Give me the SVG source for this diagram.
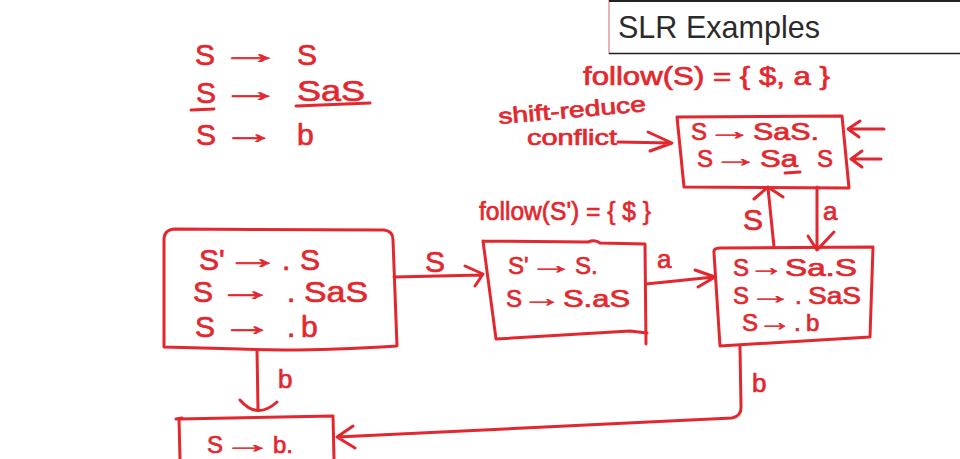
<svg xmlns="http://www.w3.org/2000/svg" width="960" height="459" viewBox="0 0 960 459">
<style>
.r{fill:none;stroke:#e2282e;stroke-width:3;stroke-linecap:round;stroke-linejoin:round}
.t{font-family:"Liberation Sans","DejaVu Sans",sans-serif;font-size:30px;fill:#e2282e;stroke:#e2282e;stroke-width:0.7}
.s{font-size:26px}
.m{font-size:24px}
.n{font-size:22px}
.title{font-family:"Liberation Sans","Open Sans",sans-serif;font-size:32px;fill:#2b2b2b}
</style>
<rect width="960" height="459" fill="#fff"/>
<g id="title">
<line x1="609" y1="0" x2="609" y2="54" stroke="#e8b4b6" stroke-width="2"/>
<line x1="609" y1="1" x2="960" y2="1" stroke="#222" stroke-width="2"/>
<line x1="609" y1="53.5" x2="960" y2="53.5" stroke="#222" stroke-width="1.5"/>
<text class="title" x="618" y="38" textLength="202" lengthAdjust="spacingAndGlyphs">SLR Examples</text>
</g>
<g id="grammar">
<text class="t" x="195" y="65">S</text><text class="t" transform="translate(219,63) scale(2.1,1)">→</text><text class="t" x="297" y="65">S</text>
<text class="t" x="196" y="103">S</text><text class="t" transform="translate(220,101) scale(2.05,1)">→</text><text class="t" x="297" y="101" textLength="68" lengthAdjust="spacingAndGlyphs">SaS</text>
<text class="t" x="196" y="145">S</text><text class="t" transform="translate(222,143) scale(1.8,1)">→</text><text class="t" x="297" y="145">b</text>
<path class="r" d="M191,110 L214,109 M296,106 L370,103"/>
</g>
<g id="notes">
<text class="t s" x="583" y="85" textLength="247" lengthAdjust="spacingAndGlyphs">follow(S) = { $, a }</text>
<text class="t s" x="479" y="220" textLength="172" lengthAdjust="spacingAndGlyphs">follow(S') = { $ }</text>
<text class="t n" x="499" y="124" transform="rotate(-5 499 124)" textLength="148" lengthAdjust="spacingAndGlyphs">shift-reduce</text>
<text class="t n" x="527" y="145" textLength="90" lengthAdjust="spacingAndGlyphs">conflict</text>
</g>
<g id="A">
<path class="r" d="M164,238 Q165,230 174,229 L384,230 Q393,231 393,240 L397,346 Q300,352 240,349 L164,347 Z"/>
<text class="t" x="199" y="270">S'</text><text class="t" transform="translate(225,268) scale(1.85,1)">→</text><text class="t" x="282" y="270">.</text><text class="t" x="300" y="270">S</text>
<text class="t" x="193" y="302">S</text><text class="t" transform="translate(217,300) scale(1.9,1)">→</text><text class="t" x="287" y="302">.</text><text class="t" x="304" y="302" textLength="64" lengthAdjust="spacingAndGlyphs">SaS</text>
<text class="t" x="195" y="337">S</text><text class="t" transform="translate(221,335) scale(1.75,1)">→</text><text class="t" x="287" y="337">.</text><text class="t" x="301" y="337">b</text>
</g>
<g id="B">
<path class="r" d="M483,241 L588,242 Q595,239 600,243 L645,244 L646,344 M483,241 L496,339 L630,331 L647,333"/>
<text class="t m" x="508" y="274">S'</text><text class="t m" transform="translate(529,273) scale(1.85,1)">→</text><text class="t m" x="575" y="274">S.</text>
<text class="t m" x="506" y="307">S</text><text class="t m" transform="translate(522,306) scale(1.65,1)">→</text><text class="t m" x="563" y="307" textLength="67" lengthAdjust="spacingAndGlyphs">S.aS</text>
</g>
<g id="C">
<path class="r" d="M714,253 Q713,248 720,248 L873,247 L870,337 L720,346 Z"/>
<text class="t m" x="733" y="276">S</text><text class="t m" transform="translate(749,275) scale(1.45,1)">→</text><text class="t m" x="785" y="276" textLength="72" lengthAdjust="spacingAndGlyphs">Sa.S</text>
<text class="t m" x="733" y="304">S</text><text class="t m" transform="translate(749,303) scale(1.8,1)">→</text><text class="t m" x="795" y="304">.</text><text class="t m" x="808" y="304" textLength="53" lengthAdjust="spacingAndGlyphs">SaS</text>
<text class="t m" x="742" y="331">S</text><text class="t m" transform="translate(758,330) scale(1.4,1)">→</text><text class="t m" x="794" y="331">.</text><text class="t m" x="806" y="331">b</text>
</g>
<g id="D">
<path class="r" d="M180,459 L179,419 L333,416 L334,459 M176,419 L182,418"/>
<text class="t m" x="207" y="453">S</text><text class="t m" transform="translate(223,452) scale(2.05,1)">→</text><text class="t m" x="273" y="453">b.</text>
</g>
<g id="E">
<path class="r" d="M677,117 L842,116 L849,188 L684,187 Z"/>
<text class="t m" x="691" y="140">S</text><text class="t m" transform="translate(707,139) scale(1.88,1)">→</text><text class="t m" x="753" y="140" textLength="66" lengthAdjust="spacingAndGlyphs">SaS.</text>
<text class="t m" x="697" y="167">S</text><text class="t m" transform="translate(713,166) scale(1.9,1)">→</text><text class="t m" x="760" y="167" textLength="38" lengthAdjust="spacingAndGlyphs">Sa</text><text class="t m" x="817" y="167">S</text>
<path class="r" d="M785,173 L800,172"/>
</g>
<g id="connectors">
<path class="r" d="M394,277 L482,275 M465,266 L483,274 L475,286"/>
<text class="t" x="425" y="272">S</text>
<path class="r" d="M646,284 L714,277 M695,270 L715,277 L698,287"/>
<text class="t s" x="657" y="268">a</text>
<path class="r" d="M740,347 L741,408 Q741,416 732,418 L337,437 M353,426 L337,437 L355,448"/>
<text class="t s" x="752" y="392">b</text>
<path class="r" d="M257,350 L258,409 M240,400 Q257,420 277,402"/>
<text class="t s" x="278" y="388">b</text>
<path class="r" d="M774,247 L768,188 M754,199 L768,187 L783,197"/>
<text class="t" x="743" y="230">S</text>
<path class="r" d="M817,187 L817,250 M808,236 L817,250 L834,232"/>
<text class="t s" x="823" y="220">a</text>
<path class="r" d="M618,142 L672,143 M648,132 L672,143 L650,151"/>
<path class="r" d="M884,129 L848,129 M860,121 L848,129 L859,137"/>
<path class="r" d="M881,159 L851,159 M862,151 L851,159 L862,167"/>
</g>
</svg>
